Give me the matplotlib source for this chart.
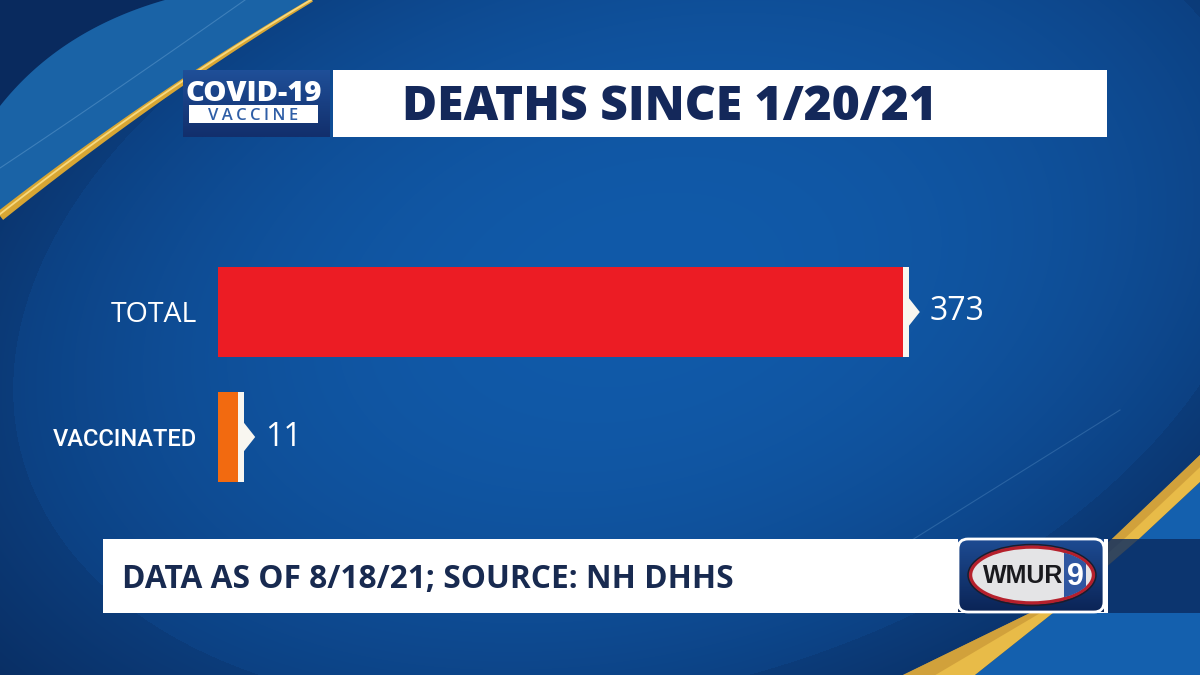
import numpy as np
import matplotlib
matplotlib.use('Agg')
import matplotlib.pyplot as plt
from matplotlib import font_manager
from matplotlib.patches import Rectangle, Ellipse, Polygon, FancyBboxPatch

# chart data
categories = ['TOTAL', 'VACCINATED']
deaths = [373, 11]
bar_colors = ['#ec1c24', '#f26a10']
title = 'DEATHS SINCE 1/20/21'
footer = 'DATA AS OF 8/18/21; SOURCE: NH DHHS'

W, H = 1200, 675


def have_font(name):
    try:
        font_manager.findfont(font_manager.FontProperties(family=name), fallback_to_default=False)
        return True
    except ValueError:
        return False


HEAD = 'Open Sans' if have_font('Open Sans') else 'DejaVu Sans'
LABEL = 'Roboto' if have_font('Roboto') else HEAD
LOGO = 'Liberation Sans'


def rgb(h):
    h = h.lstrip('#')
    return np.array([int(h[i:i + 2], 16) for i in (0, 2, 4)]) / 255.0


def grad_box(ax, x0, y0, w, h, top, bottom, z):
    t = np.linspace(0, 1, 60)[:, None, None]
    img = rgb(top) + (rgb(bottom) - rgb(top)) * t
    ax.imshow(img, extent=(x0, x0 + w, y0 + h, y0), aspect='auto', zorder=z, interpolation='bilinear')


def bezier(p0, p1, p2, n=80):
    t = np.linspace(0, 1, n)[:, None]
    p0, p1, p2 = map(np.array, (p0, p1, p2))
    return (1 - t) ** 2 * p0 + 2 * (1 - t) * t * p1 + t ** 2 * p2


fig = plt.figure(figsize=(12, 6.75), dpi=100)

# ---- background graphics (pixel coordinates) ----
bg = fig.add_axes([0, 0, 1, 1])
bg.axis('off')

yy, xx = np.mgrid[0:H, 0:W] + 0.5
th = np.radians(15)
dx, dy = xx - 640, yy - 290
u = dx * np.cos(th) - dy * np.sin(th)
v = dx * np.sin(th) + dy * np.cos(th)
r = np.sqrt((u / 640) ** 2 + (v / 400) ** 2)
bright, dim = rgb('#115aa9'), rgb('#0c4183')
outer, corner = rgb('#0c3c7a'), rgb('#08295b')
t_in = np.clip(r, 0, 1)[..., None] ** 2.2
t_out = np.clip((r - 1) / 0.35, 0, 1)[..., None]
img = np.where((r > 1)[..., None], outer + (corner - outer) * t_out, bright + (dim - bright) * t_in)
bg.imshow(img, extent=(0, W, H, 0), aspect='auto', zorder=0)

# top-left swoosh
gold_tl = bezier((0, 216), (156, 93), (312, 0))
band_top = bezier((165, 0), (60, 30), (0, 106))
bg.add_patch(Polygon(np.vstack([[[0, 0]], band_top]), closed=True,
                     fc='#092a5e', ec='none', zorder=1))
bg.add_patch(Polygon(np.vstack([gold_tl, [[312, 0]], band_top, [[0, 216]]]),
                     closed=True, fc='#1a63a6', ec='none', zorder=1))
bg.plot(*bezier((0, 168), (110, 95), (245, 0)).T, color='#7fb4e0', lw=0.8, alpha=0.35, zorder=1)
d = np.gradient(gold_tl, axis=0)
nrm = np.c_[-d[:, 1], d[:, 0]] / np.hypot(d[:, 0], d[:, 1])[:, None]
wid = np.linspace(5, 1.8, len(gold_tl))[:, None]
bg.add_patch(Polygon(np.vstack([gold_tl + nrm * wid, (gold_tl - nrm * wid)[::-1]]),
                     closed=True, fc='#d8a633', ec='none', zorder=2))
bg.plot(*(gold_tl - nrm * wid * 0.3).T, color='#f7d97f', lw=1.3, zorder=2)

# bottom-right swoosh
upper_edge = np.array([[903, 675], [1030, 613], [1113, 538], [1200, 455]])
lower_edge = np.array([[975, 675], [1053, 613], [1140, 538], [1200, 482]])
bg.add_patch(Polygon(np.vstack([lower_edge, [[1200, 675]]]), closed=True,
                     fc='#1460ae', ec='none', zorder=1))
bg.add_patch(Polygon(np.vstack([upper_edge, lower_edge[::-1]]), closed=True,
                     fc='#e8bb48', ec='none', zorder=2))
mid_edge = upper_edge * 0.55 + lower_edge * 0.45
bg.add_patch(Polygon(np.vstack([upper_edge, mid_edge[::-1]]), closed=True,
                     fc='#c39033', ec='none', alpha=0.6, zorder=2))
bg.plot([880, 1120], [560, 410], color='#7fb4e0', lw=0.8, alpha=0.25, zorder=1)

# header
grad_box(bg, 183, 70, 147, 67, '#1f4f98', '#122f6c', 3)
bg.text(254, 101, 'COVID-19', color='white', fontsize=21, fontweight='heavy',
        family=HEAD, ha='center', va='baseline', zorder=5)
bg.add_patch(Rectangle((189, 105), 129, 18, fc='white', ec='none', zorder=4))
bg.text(253.5, 119.5, '\u2009'.join('VACCINE'), color='#2f5ea6', fontsize=12,
        fontweight='semibold', family=HEAD, ha='center', va='baseline', zorder=5)
bg.add_patch(Rectangle((333, 70), 774, 67, fc='white', ec='none', zorder=3))
bg.text(402, 120, title, color='#14285a', fontsize=34.5, fontweight='heavy',
        family=HEAD, ha='left', va='baseline', zorder=5)

# footer banner
bg.add_patch(Rectangle((103, 539), 1005, 74, fc='white', ec='none', zorder=3))
bg.text(122, 588, footer, color='#182a50', fontsize=22.8, fontweight='bold',
        family=HEAD, ha='left', va='baseline', zorder=5)
grad_box(bg, 958, 539, 146, 73, '#1d4b92', '#0b2456', 4)
bg.add_patch(FancyBboxPatch((958, 539), 146, 73, boxstyle='round,pad=0,rounding_size=10',
                            fc='none', ec='white', lw=2, zorder=4))
bg.add_patch(Rectangle((1108, 539), 92, 74, fc='#0b2c62', ec='none', alpha=0.82, zorder=3))

# logo
bg.add_patch(Ellipse((1032, 575), 123, 56, fc='#e4e4e6', ec='#b5202c', lw=2.5, zorder=5))
nine = Rectangle((1064, 545), 22, 62, fc='#2f56a0', ec='none', zorder=6)
bg.add_patch(nine)
nine.set_clip_path(Ellipse((1032, 575), 120, 53, transform=bg.transData))
bg.add_patch(Ellipse((1032, 575), 128, 61, fc='none', ec='#1c1c2a', lw=1.0, zorder=6))
bg.text(1023, 583, 'WMUR', color='#1a1a1e', fontsize=18, fontweight='bold',
        family=LOGO, ha='center', va='baseline', zorder=7)
bg.text(1075, 585, '9', color='white', fontsize=22, fontweight='bold',
        family=LOGO, ha='center', va='baseline', zorder=7)

bg.set_xlim(0, W)
bg.set_ylim(H, 0)

# ---- bar chart ----
px_per_unit = 1.836
ax = fig.add_axes([218 / W, (H - 500) / H, 800 / W, 250 / H])
ax.patch.set_alpha(0)
ax.set_xlim(0, 800 / px_per_unit)
ax.set_ylim(1.504, -0.496)
y = np.arange(len(categories))
bar_h = 0.72
cap_w = 6 / px_per_unit
ax.barh(y, deaths, height=bar_h, color=bar_colors, zorder=2)
ax.barh(y, cap_w, left=deaths, height=bar_h, color='#f8f6f0', zorder=2)
for yi, val in zip(y, deaths):
    tip = val + cap_w
    ax.add_patch(Polygon([[tip - 0.2, yi - 0.115], [tip + 11 / px_per_unit, yi], [tip - 0.2, yi + 0.115]],
                         closed=True, fc='#f8f6f0', ec='none', zorder=3))
    ax.annotate(f'{val}', xy=(tip, yi), xytext=(15, 0), textcoords='offset points',
                color='white', fontsize=23, fontweight='medium', family=HEAD, ha='left', va='center')

ax.set_yticks(y, categories)
ax.tick_params(axis='y', length=0, pad=15, labelcolor='white')
ax.tick_params(axis='x', bottom=False, labelbottom=False)
lbls = ax.get_yticklabels()
lbls[0].set_fontfamily(HEAD)
lbls[0].set_fontsize(20.5)
lbls[0].set_fontweight('medium')
lbls[1].set_fontfamily(LABEL)
lbls[1].set_fontsize(17)
lbls[1].set_fontweight('medium')
for s in ax.spines.values():
    s.set_visible(False)

fig.savefig('out.png', dpi=100)
